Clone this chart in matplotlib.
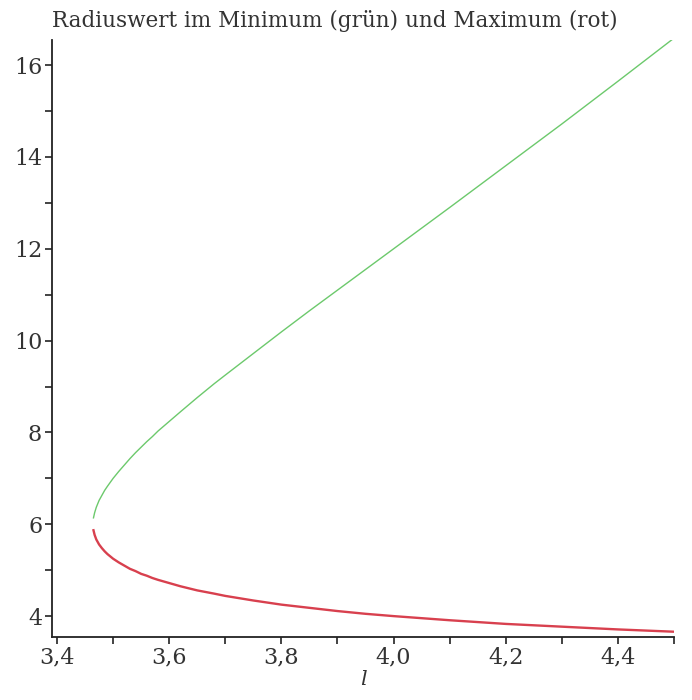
import matplotlib
matplotlib.use("Agg")
import matplotlib.pyplot as plt
from matplotlib.ticker import FixedLocator, FuncFormatter

# angular momentum l and radius values
l_vals = [3.465, 3.467, 3.47, 3.475, 3.48, 3.485, 3.49, 3.50, 3.51, 3.52, 3.53,
          3.54, 3.55, 3.56, 3.57, 3.58, 3.60, 3.62, 3.65, 3.68, 3.70, 3.75,
          3.80, 3.85, 3.90, 3.95, 4.00, 4.10, 4.20, 4.30, 4.40, 4.50]
r_min = [6.14, 6.25, 6.37, 6.52, 6.63, 6.74, 6.83, 7.00, 7.15, 7.29, 7.43,
         7.56, 7.68, 7.80, 7.91, 8.03, 8.24, 8.45, 8.76, 9.06, 9.25, 9.72,
         10.19, 10.65, 11.10, 11.55, 12.00, 12.90, 13.81, 14.72, 15.65, 16.59]   # green
r_max = [5.87, 5.77, 5.67, 5.56, 5.48, 5.41, 5.35, 5.25, 5.17, 5.10, 5.03,
         4.98, 4.92, 4.88, 4.83, 4.79, 4.72, 4.65, 4.56, 4.49, 4.44, 4.34,
         4.25, 4.18, 4.11, 4.05, 4.00, 3.91, 3.83, 3.77, 3.71, 3.66]             # red

x_major = [3.4, 3.6, 3.8, 4.0, 4.2, 4.4]
x_minor = [3.5, 3.7, 3.9, 4.1, 4.3, 4.5]
y_major = [4, 6, 8, 10, 12, 14, 16]
y_minor = [5, 7, 9, 11, 13, 15]

serif = "DejaVu Serif"

fig = plt.figure(figsize=(6.92, 7.0), dpi=100)
ax = fig.add_axes([0.0751, 0.09, 0.899, 0.853])

ax.plot(l_vals, r_min, color="#6cc96c", lw=1.0)
ax.plot(l_vals, r_max, color="#d8404e", lw=1.7)

ax.set_xlim(3.391, 4.5)
ax.set_ylim(3.545, 16.55)

for s in ["top", "right"]:
    ax.spines[s].set_visible(False)
for s in ["left", "bottom"]:
    ax.spines[s].set_linewidth(1.3)
    ax.spines[s].set_color("#222222")

ax.xaxis.set_major_locator(FixedLocator(x_major))
ax.xaxis.set_minor_locator(FixedLocator(x_minor))
ax.yaxis.set_major_locator(FixedLocator(y_major))
ax.yaxis.set_minor_locator(FixedLocator(y_minor))
ax.xaxis.set_major_formatter(FuncFormatter(lambda v, p: f"{v:.1f}".replace(".", ",")))
ax.yaxis.set_major_formatter(FuncFormatter(lambda v, p: f"{v:.0f}"))

ax.tick_params(which="both", direction="out", length=5, width=1.2, color="#222222")
ax.tick_params(axis="both", which="major", labelsize=16, pad=2)
for lab in ax.get_xticklabels() + ax.get_yticklabels():
    lab.set_family(serif)
    lab.set_color("#333333")

ax.set_xlabel("l", family=serif, style="italic", fontsize=15, color="#333333", labelpad=1)
fig.text(0.075, 0.962, "Radiuswert im Minimum (grün) und Maximum (rot)",
         family=serif, fontsize=15.5, color="#333333", ha="left", va="baseline")

fig.savefig("out.png", dpi=100)
